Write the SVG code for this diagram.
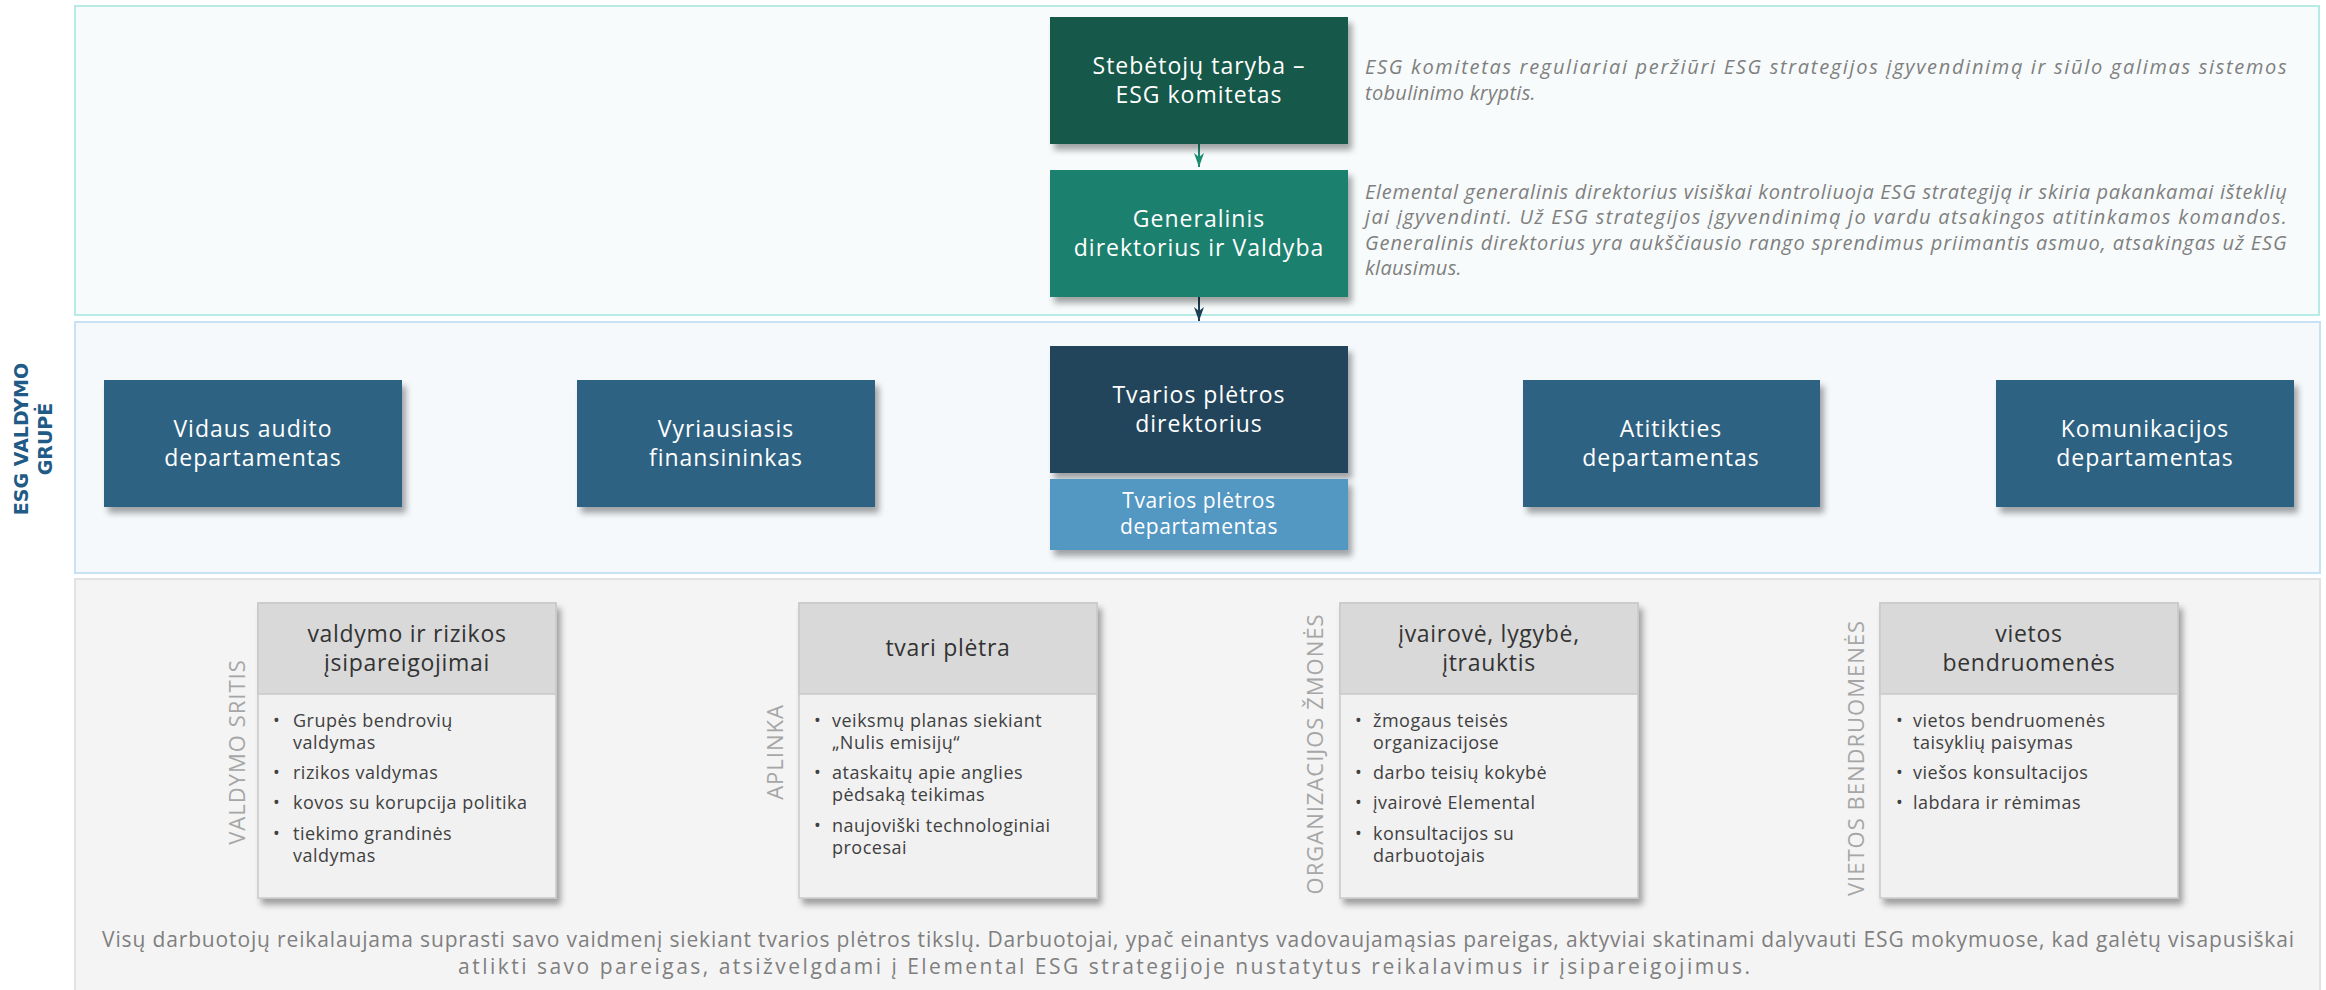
<svg xmlns="http://www.w3.org/2000/svg" width="2326" height="990" viewBox="0 0 2326 990">
<defs>
<filter id="sh" x="-10%" y="-10%" width="125%" height="130%">
<feDropShadow dx="4" dy="6" stdDeviation="3" flood-color="#000" flood-opacity="0.35"/>
</filter>
<marker id="ahT" markerUnits="userSpaceOnUse" markerWidth="14" markerHeight="10" refX="14" refY="5" orient="auto" viewBox="0 0 14 10">
<path d="M0,0 L14,5 L0,10 L4,5 Z" fill="#1e8c70"/>
</marker>
<marker id="ahN" markerUnits="userSpaceOnUse" markerWidth="14" markerHeight="10" refX="14" refY="5" orient="auto" viewBox="0 0 14 10">
<path d="M0,0 L14,5 L0,10 L4,5 Z" fill="#1f3f55"/>
</marker>
</defs>
<style>
text{font-family:"Open Sans","Noto Sans","Liberation Sans",sans-serif;}
.bt{fill:#ffffff;font-size:23px;letter-spacing:1px;text-anchor:middle;}
.bs{fill:#ffffff;font-size:21px;letter-spacing:0.6px;text-anchor:middle;}
.desc{fill:#7f7f7f;font-size:20px;font-style:italic;letter-spacing:0.3px;}
.hd{fill:#333333;font-size:23px;letter-spacing:0.7px;text-anchor:middle;}
.bl{fill:#404040;font-size:18px;letter-spacing:0.5px;}
.side{fill:#a6a6a6;font-size:22px;letter-spacing:1px;text-anchor:middle;}
.foot{fill:#7f7f7f;font-size:21px;}
.grp{fill:#1f5b86;font-family:"DejaVu Sans",sans-serif;font-weight:bold;font-size:19px;text-anchor:middle;}
</style>
<rect width="2326" height="990" fill="#ffffff"/>

<g id="panels">
<rect x="75" y="6" width="2244" height="309" fill="#f7fbfb" stroke="#b7ebe3" stroke-width="2"/>
<rect x="75" y="322" width="2245" height="251" fill="#f5f9fc" stroke="#c6e2f4" stroke-width="2"/>
<rect x="75" y="579" width="2245" height="412" fill="#f4f4f4" stroke="#e2e2e2" stroke-width="2"/>
</g>

<g id="group-label">
<text class="grp" transform="translate(28,439) rotate(-90)">ESG VALDYMO</text>
<text class="grp" transform="translate(52,439) rotate(-90)">GRUPĖ</text>
</g>

<g id="connectors">
<line x1="1199" y1="144" x2="1199" y2="167" stroke="#1e8c70" stroke-width="2" marker-end="url(#ahT)"/>
<line x1="1199" y1="297" x2="1199" y2="321" stroke="#1f3f55" stroke-width="2" marker-end="url(#ahN)"/>
</g>

<g id="node-stebetoju">
<rect x="1050" y="17" width="298" height="127" fill="#13584a" filter="url(#sh)"/>
<text class="bt" x="1199" y="74">Stebėtojų taryba –</text>
<text class="bt" x="1199" y="103">ESG komitetas</text>
</g>
<g id="desc-stebetoju">
<text class="desc" x="1365" y="74" textLength="922" lengthAdjust="spacing">ESG komitetas reguliariai peržiūri ESG strategijos įgyvendinimą ir siūlo galimas sistemos</text>
<text class="desc" x="1365" y="100">tobulinimo kryptis.</text>
</g>

<g id="node-generalinis">
<rect x="1050" y="170" width="298" height="127" fill="#1e806e" filter="url(#sh)"/>
<text class="bt" x="1199" y="227">Generalinis</text>
<text class="bt" x="1199" y="256">direktorius ir Valdyba</text>
</g>
<g id="desc-generalinis">
<text class="desc" x="1365" y="199" textLength="922" lengthAdjust="spacing">Elemental generalinis direktorius visiškai kontroliuoja ESG strategiją ir skiria pakankamai išteklių</text>
<text class="desc" x="1365" y="224" textLength="922" lengthAdjust="spacing">jai įgyvendinti. Už ESG strategijos įgyvendinimą jo vardu atsakingos atitinkamos komandos.</text>
<text class="desc" x="1365" y="250" textLength="922" lengthAdjust="spacing">Generalinis direktorius yra aukščiausio rango sprendimus priimantis asmuo, atsakingas už ESG</text>
<text class="desc" x="1365" y="275">klausimus.</text>
</g>

<g id="node-vidaus">
<rect x="104" y="380" width="298" height="127" fill="#2d6282" filter="url(#sh)"/>
<text class="bt" x="253" y="437">Vidaus audito</text>
<text class="bt" x="253" y="466">departamentas</text>
</g>
<g id="node-vyriausiasis">
<rect x="577" y="380" width="298" height="127" fill="#2d6282" filter="url(#sh)"/>
<text class="bt" x="726" y="437">Vyriausiasis</text>
<text class="bt" x="726" y="466">finansininkas</text>
</g>
<g id="node-tvarios-dir">
<rect x="1050" y="346" width="298" height="127" fill="#21455b" filter="url(#sh)"/>
<text class="bt" x="1199" y="403">Tvarios plėtros</text>
<text class="bt" x="1199" y="432">direktorius</text>
</g>
<g id="node-tvarios-dep">
<rect x="1050" y="479" width="298" height="71" fill="#5297c3" filter="url(#sh)"/>
<text class="bs" x="1199" y="508">Tvarios plėtros</text>
<text class="bs" x="1199" y="534">departamentas</text>
</g>
<g id="node-atitikties">
<rect x="1523" y="380" width="297" height="127" fill="#2d6282" filter="url(#sh)"/>
<text class="bt" x="1671" y="437">Atitikties</text>
<text class="bt" x="1671" y="466">departamentas</text>
</g>
<g id="node-komunikacijos">
<rect x="1996" y="380" width="298" height="127" fill="#2d6282" filter="url(#sh)"/>
<text class="bt" x="2145" y="437">Komunikacijos</text>
<text class="bt" x="2145" y="466">departamentas</text>
</g>

<g id="card-valdymo">
<text class="side" transform="translate(245,752) rotate(-90)">VALDYMO SRITIS</text>
<rect x="258" y="603" width="298" height="295" fill="#f1f1f1" stroke="#c9c9c9" stroke-width="1.5" filter="url(#sh)"/>
<rect x="258" y="603" width="298" height="91" fill="#d9d9d9" stroke="#c9c9c9" stroke-width="1.5"/>
<text class="hd" x="407" y="642">valdymo ir rizikos</text>
<text class="hd" x="407" y="671">įsipareigojimai</text>
<text class="bl" x="273" y="727">•</text><text class="bl" x="293" y="727">Grupės bendrovių</text>
<text class="bl" x="293" y="749">valdymas</text>
<text class="bl" x="273" y="779">•</text><text class="bl" x="293" y="779">rizikos valdymas</text>
<text class="bl" x="273" y="809">•</text><text class="bl" x="293" y="809">kovos su korupcija politika</text>
<text class="bl" x="273" y="840">•</text><text class="bl" x="293" y="840">tiekimo grandinės</text>
<text class="bl" x="293" y="862">valdymas</text>
</g>

<g id="card-aplinka">
<text class="side" transform="translate(783,752) rotate(-90)">APLINKA</text>
<rect x="799" y="603" width="298" height="295" fill="#f1f1f1" stroke="#c9c9c9" stroke-width="1.5" filter="url(#sh)"/>
<rect x="799" y="603" width="298" height="91" fill="#d9d9d9" stroke="#c9c9c9" stroke-width="1.5"/>
<text class="hd" x="948" y="656">tvari plėtra</text>
<text class="bl" x="814" y="727">•</text><text class="bl" x="832" y="727">veiksmų planas siekiant</text>
<text class="bl" x="832" y="749">„Nulis emisijų“</text>
<text class="bl" x="814" y="779">•</text><text class="bl" x="832" y="779">ataskaitų apie anglies</text>
<text class="bl" x="832" y="801">pėdsaką teikimas</text>
<text class="bl" x="814" y="832">•</text><text class="bl" x="832" y="832">naujoviški technologiniai</text>
<text class="bl" x="832" y="854">procesai</text>
</g>

<g id="card-zmones">
<text class="side" transform="translate(1323,754) rotate(-90)">ORGANIZACIJOS ŽMONĖS</text>
<rect x="1340" y="603" width="298" height="295" fill="#f1f1f1" stroke="#c9c9c9" stroke-width="1.5" filter="url(#sh)"/>
<rect x="1340" y="603" width="298" height="91" fill="#d9d9d9" stroke="#c9c9c9" stroke-width="1.5"/>
<text class="hd" x="1489" y="642">įvairovė, lygybė,</text>
<text class="hd" x="1489" y="671">įtrauktis</text>
<text class="bl" x="1355" y="727">•</text><text class="bl" x="1373" y="727">žmogaus teisės</text>
<text class="bl" x="1373" y="749">organizacijose</text>
<text class="bl" x="1355" y="779">•</text><text class="bl" x="1373" y="779">darbo teisių kokybė</text>
<text class="bl" x="1355" y="809">•</text><text class="bl" x="1373" y="809">įvairovė Elemental</text>
<text class="bl" x="1355" y="840">•</text><text class="bl" x="1373" y="840">konsultacijos su</text>
<text class="bl" x="1373" y="862">darbuotojais</text>
</g>

<g id="card-bendruomenes">
<text class="side" transform="translate(1864,758) rotate(-90)">VIETOS BENDRUOMENĖS</text>
<rect x="1880" y="603" width="298" height="295" fill="#f1f1f1" stroke="#c9c9c9" stroke-width="1.5" filter="url(#sh)"/>
<rect x="1880" y="603" width="298" height="91" fill="#d9d9d9" stroke="#c9c9c9" stroke-width="1.5"/>
<text class="hd" x="2029" y="642">vietos</text>
<text class="hd" x="2029" y="671">bendruomenės</text>
<text class="bl" x="1896" y="727">•</text><text class="bl" x="1913" y="727">vietos bendruomenės</text>
<text class="bl" x="1913" y="749">taisyklių paisymas</text>
<text class="bl" x="1896" y="779">•</text><text class="bl" x="1913" y="779">viešos konsultacijos</text>
<text class="bl" x="1896" y="809">•</text><text class="bl" x="1913" y="809">labdara ir rėmimas</text>
</g>

<g id="footer">
<text class="foot" x="102" y="947" textLength="2192" lengthAdjust="spacing">Visų darbuotojų reikalaujama suprasti savo vaidmenį siekiant tvarios plėtros tikslų. Darbuotojai, ypač einantys vadovaujamąsias pareigas, aktyviai skatinami dalyvauti ESG mokymuose, kad galėtų visapusiškai</text>
<text class="foot" x="458" y="974" textLength="1292" lengthAdjust="spacing">atlikti savo pareigas, atsižvelgdami į Elemental ESG strategijoje nustatytus reikalavimus ir įsipareigojimus.</text>
</g>
</svg>
